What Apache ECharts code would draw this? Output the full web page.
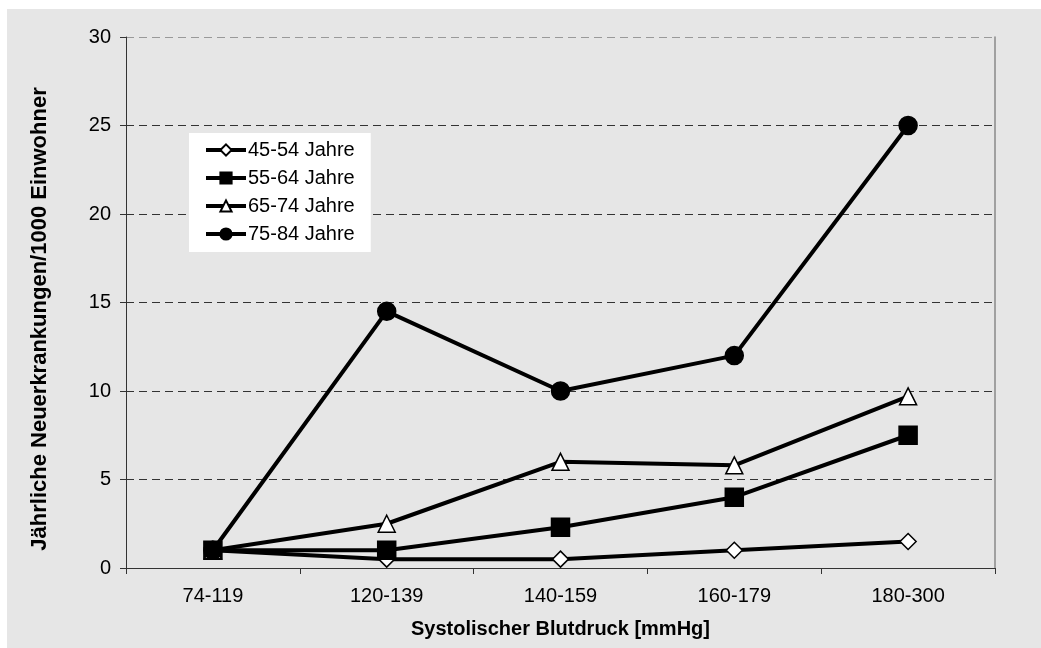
<!DOCTYPE html>
<html><head><meta charset="utf-8">
<script src="https://cdn.jsdelivr.net/npm/echarts@6/dist/echarts.min.js"></script>
<style>html,body{margin:0;padding:0;background:#fff;}#c{width:1041px;height:648px;}</style>
</head><body><div id="c"></div>
<script>
const categories = ['74-119', '120-139', '140-159', '160-179', '180-300'];
const s45_54 = [1, 0.5, 0.5, 1, 1.5];
const s55_64 = [1, 1, 2.3, 4, 7.5];
const s65_74 = [1, 2.5, 6, 5.8, 9.7];
const s75_84 = [1, 14.5, 10, 12, 25];
const seriesNames = ['45-54 Jahre', '55-64 Jahre', '65-74 Jahre', '75-84 Jahre'];
const yTicks = [0, 5, 10, 15, 20, 25, 30];
const xTitle = 'Systolischer Blutdruck [mmHg]';
const yTitle = 'Jährliche Neuerkrankungen/1000 Einwohner';

const font = 'Liberation Sans, Arial, sans-serif';
const chart = echarts.init(document.getElementById('c'));
function ser(name, data, symbol, size, fill) {
  return {
    name, type: 'line', data, symbol, symbolSize: size,
    lineStyle: { color: '#000', width: 4 },
    itemStyle: { color: fill, borderColor: '#000', borderWidth: 1.5 },
    emphasis: { disabled: true }, z: 5
  };
}
const gridColors = yTicks.map((v, i) => i === yTicks.length - 1 ? '#999' : '#333');
chart.setOption({
  animation: false,
  backgroundColor: '#fff',
  graphic: [
    { type: 'rect', left: 7, top: 9, shape: { width: 1034, height: 639 }, style: { fill: '#e6e6e6' }, z: -10, silent: true },
    { type: 'text', x: 40, y: 319, rotation: Math.PI / 2, silent: true,
      style: { text: yTitle, font: 'bold 22px ' + font, fill: '#000', textAlign: 'center', textVerticalAlign: 'middle' } }
  ],
  grid: { left: 126, top: 37, right: 46, bottom: 80 },
  legend: {
    left: 189, top: 133, orient: 'vertical',
    data: seriesNames,
    backgroundColor: '#fff',
    padding: [7, 16, 8, 15],
    itemWidth: 40, itemHeight: 14, itemGap: 8,
    lineStyle: { width: 4, color: '#000' },
    textStyle: { fontFamily: font, fontSize: 20, lineHeight: 20, color: '#000', padding: [0, 0, 0, -3] }
  },
  xAxis: {
    type: 'category', data: categories, boundaryGap: true,
    axisLine: { lineStyle: { color: '#333', width: 1 } },
    axisTick: { show: true, length: 6, lineStyle: { color: '#333' } },
    axisLabel: { fontFamily: font, fontSize: 20, color: '#000', margin: 18 },
    name: xTitle, nameLocation: 'middle', nameGap: 51,
    nameTextStyle: { fontFamily: font, fontSize: 20, fontWeight: 'bold', color: '#000' }
  },
  yAxis: [{
    type: 'value', min: yTicks[0], max: yTicks[yTicks.length - 1], interval: 5,
    axisLine: { show: true, lineStyle: { color: '#333', width: 1 } },
    axisTick: { show: true, length: 6, inside: false, lineStyle: { color: '#333' } },
    axisLabel: { fontFamily: font, fontSize: 20, color: '#000', margin: 15 },
    splitLine: { show: true, lineStyle: { color: gridColors, type: [8, 5], width: 1 } }
  }, {
    type: 'value', min: 0, max: 30, position: 'right',
    axisLine: { show: true, lineStyle: { color: '#888', width: 1.5 } },
    axisTick: { show: false }, axisLabel: { show: false }, splitLine: { show: false }
  }],
  series: [
    ser(seriesNames[0], s45_54, 'diamond', 16, '#fff'),
    ser(seriesNames[1], s55_64, 'rect', 18, '#000'),
    ser(seriesNames[2], s65_74, 'triangle', 17, '#fff'),
    ser(seriesNames[3], s75_84, 'circle', 18, '#000')
  ]
});
</script></body></html>
